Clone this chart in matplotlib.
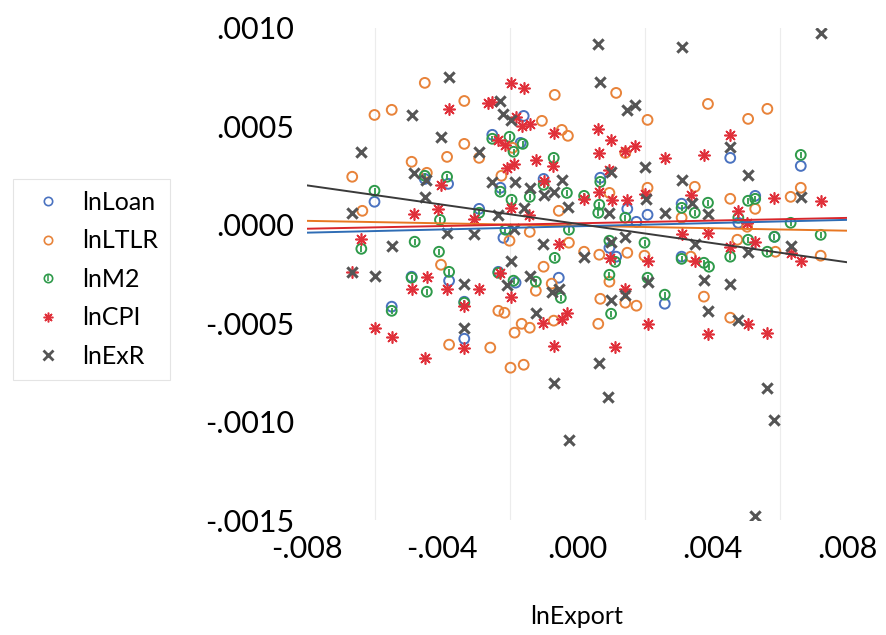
import numpy as np
import matplotlib
matplotlib.use("Agg")
import matplotlib.pyplot as plt
from matplotlib.lines import Line2D

plt.rcParams["font.family"] = ["Lato", "DejaVu Sans"]

# x values in units of 1e-3, y values in units of 1e-4
LOAN_X = [-3.82, -4.51, -6.00, -2.90, -2.51, -1.58, -1.67, -2.27, -0.99, 0.69, 1.49, 2.09, 1.76,
          4.54, 6.63, 3.10, 5.28, 4.78, -3.79, -5.49, -3.34, -4.90, -3.34, -2.18, -0.54, -1.82,
          -2.33, 0.96, 1.16, 2.60, 3.10, 5.85]
LOAN_Y = [2.08, 2.33, 1.17, 0.81, 4.57, 5.53, 4.16, 1.88, 2.33, 2.39, 0.81, 0.51, 0.15,
          3.40, 2.99, 1.07, 1.47, 0.10, -2.84, -4.16, -5.79, -2.64, -3.91, -0.66, -2.69, -2.94,
          -2.39, -1.17, -1.62, -4.01, -1.62, -0.61]

LTLR_X = [-4.51, -3.34, -6.00, -5.49, -3.34, -3.85, -2.90, -4.90, -6.66, -4.45, -6.36, -0.66, 1.16,
          2.09, -1.04, -0.45, -0.27, -1.91, 1.43, -2.24, 0.96, 2.09, -0.54, 3.88, 5.07, 5.64,
          3.49, 4.54, 5.28, 6.33, 6.63, 3.10, -4.03, -3.79, -2.57, -1.40, -2.00, -0.24, -0.99,
          -1.22, -0.75, -2.33, -2.15, -1.64, -1.40, -1.85, -0.69, -1.97, -1.58, 0.21, 0.66, 1.49,
          2.00, 0.96, 0.69, 1.43, 1.76, 0.63, 4.75, 3.37, 5.88, 7.22, 3.76, 4.54, 5.04]
LTLR_Y = [7.21, 6.29, 5.58, 5.84, 4.11, 3.45, 3.40, 3.20, 2.44, 2.64, 0.71, 6.60, 6.70,
          5.33, 5.28, 4.82, 4.52, 3.91, 3.65, 2.49, 1.62, 1.88, 0.71, 6.14, 5.38, 5.89,
          1.93, 1.32, 0.81, 1.42, 1.88, 0.36, -2.03, -6.09, -6.24, -0.36, -0.81, -0.91, -2.13,
          -3.35, -2.99, -4.37, -4.47, -5.03, -5.23, -5.48, -4.87, -7.26, -7.11, -1.37, -1.52, -1.42,
          -1.57, -2.89, -3.76, -3.96, -4.11, -5.03, -0.76, -1.62, -1.37, -1.57, -3.65, -4.72, -0.10]

M2_X = [-3.85, -4.51, -6.00, -2.90, -4.06, -2.00, -2.51, -1.61, -1.88, -0.69, -2.27, -0.99, -0.30,
        -1.40, 0.69, 0.21, 0.66, 0.63, -1.94, 1.43, 6.63, 3.88, 3.10, 3.49, 5.07, 5.28, 4.78,
        6.33, -6.39, -4.81, -4.09, -4.90, -4.45, -3.79, -5.49, -3.34, -0.24, -2.12, -0.66, -1.88,
        -1.22, -2.33, -0.48, 2.00, 0.96, 1.13, 2.09, 1.01, 2.60, 0.96, 3.10, 3.76, 3.91, 4.54,
        5.07, 5.64, 5.85, 7.22]
M2_Y = [2.44, 2.49, 1.73, 0.61, 0.25, 4.47, 4.37, 4.11, 3.71, 3.40, 1.68, 2.03, 1.62,
        1.42, 2.18, 1.47, 1.02, 0.61, 1.27, 0.36, 3.55, 1.12, 0.86, 0.61, 1.22, 1.32, 0.36,
        0.10, -1.22, -0.86, -1.37, -2.69, -3.40, -2.39, -4.37, -3.96, -0.25, -0.25, -1.68, -2.84,
        -2.89, -2.44, -3.71, -0.91, -2.54, -1.88, -2.69, -4.52, -3.55, -0.81, -1.73, -1.93, -2.13, -1.62,
        -0.76, -1.37, -0.61, -0.51]

CPI_X = [-3.79, -2.63, -4.03, -4.12, -4.84, -3.04, -1.97, -1.58, -2.51, -1.82, -1.64, -1.40, -0.69,
         0.63, 1.01, -2.33, -2.12, 1.43, 1.73, 2.60, 0.66, -1.22, -1.88, -2.06, -0.72, 0.96,
         -0.99, 0.66, 0.21, 1.04, 1.49, 2.00, -1.97, -1.43, 4.54, 3.76, 3.37, 5.85, 7.22, 4.78,
         5.04, -6.39, -6.66, -4.45, -4.90, -3.85, -2.90, -3.34, -6.00, -5.49, -3.34, -4.51, -0.54,
         -2.27, -1.97, -1.01, -0.45, -0.30, -0.69, 0.99, 1.43, 2.09, 2.09, 1.13, 3.10, 3.88,
         4.54, 5.28, 3.49, 6.33, 6.63, 5.07, 5.64, 3.88]
CPI_Y = [5.89, 6.19, 2.03, 0.81, 0.56, 0.30, 7.21, 6.95, 6.24, 5.48, 5.03, 5.13, 4.67,
         4.87, 4.31, 4.31, 4.06, 3.76, 4.01, 3.40, 3.65, 3.30, 3.10, 2.89, 2.99, 2.79,
         2.23, 1.68, 1.32, 1.27, 1.27, 1.57, 0.86, 0.51, 4.57, 3.55, 1.52, 1.37, 1.22, 0.71,
         0.10, -0.71, -2.39, -2.64, -3.25, -3.25, -3.25, -4.11, -5.23, -5.69, -6.24, -6.75, -0.96,
         -2.44, -3.65, -4.97, -4.77, -4.47, -6.14, -1.68, -3.25, -1.83, -5.03, -6.19, -0.46, -0.41,
         -1.12, -0.86, -1.83, -1.42, -1.83, -5.03, -5.48, -5.53]

EXR_X = [-3.79, -4.90, -6.39, -4.03, -2.90, -4.84, -4.51, -6.66, -4.48, 0.63, 0.69, -2.27, -2.18,
         -1.97, 1.49, 1.73, 2.00, 1.01, -2.51, -1.85, -1.40, -0.45, -0.69, -0.99, 2.03, -0.27,
         0.96, 2.60, -1.58, -2.33, 3.10, 7.22, 4.54, 5.07, 3.10, 6.63, 3.40, 3.88, -5.49, -6.00,
         -3.34, -3.34, -3.85, -3.04, -1.01, -1.97, -1.40, -2.06, -0.75, -0.54, -1.22, 0.21, 1.01,
         1.43, 1.01, 1.43, 2.09, 0.66, -0.69, 0.93, -1.88, 3.49, 5.07, 6.33, 3.76, 4.54, 3.88,
         4.78, 5.64, 5.85, 5.28, -0.24, -6.66]
EXR_Y = [7.51, 5.58, 3.71, 4.47, 3.71, 2.64, 1.42, 0.61, 2.28, 9.19, 7.26, 6.29, 5.63,
         5.33, 5.84, 6.09, 2.94, 2.69, 2.18, 2.18, 1.88, 2.28, 1.68, 1.52, 1.32, 0.91,
         0.61, 0.61, 0.86, 0.51, 9.04, 9.75, 3.96, 2.54, 2.28, 1.42, 1.12, 0.56, -1.07, -2.59,
         -2.99, -5.23, -0.41, -0.46, -0.96, -1.83, -2.59, -3.05, -3.40, -3.25, -4.47, -1.62, -0.86,
         -0.61, -3.81, -3.55, -2.89, -7.00, -8.02, -8.73, -0.20, -0.96, -1.37, -1.07, -2.79, -2.99, -4.37,
         -4.82, -8.27, -9.90, -14.77, -10.91, -2.39]

FIT_LOAN = (-0.0000075, 0.00406)
FIT_LTLR = (-0.000005, -0.003125)
FIT_CPI = (0.0000075, 0.00344)
FIT_EXR = (0.000005, -0.0244)

X_TICKS = [-0.008, -0.004, 0.0, 0.004, 0.008]
X_TICK_LABELS = ["-.008", "-.004", ".000", ".004", ".008"]
Y_TICKS = [-0.0015, -0.0010, -0.0005, 0.0, 0.0005, 0.0010]
Y_TICK_LABELS = ["-.0015", "-.0010", "-.0005", ".0000", ".0005", ".0010"]
X_GRID = [-0.006, -0.004, -0.002, 0.0, 0.002, 0.004, 0.006]
Y_GRID = [-0.0010, -0.0005, 0.0, 0.0005]

C_LOAN = "#4a72c0"
C_LTLR = "#e8833a"
C_M2 = "#2e9a4a"
C_CPI = "#e0303a"
C_EXR = "#555555"


def xs(v):
    return np.array(v) * 1e-3


def ys(v):
    return np.array(v) * 1e-4


fig = plt.figure(figsize=(8.86, 6.35), dpi=100)
ax = fig.add_axes([0.3465, 0.181, 0.6095, 0.775])

ms = 50
ax.scatter(xs(LOAN_X), ys(LOAN_Y), s=ms, facecolors="none", edgecolors=C_LOAN, linewidths=1.4, zorder=3)
ax.scatter(xs(LTLR_X), ys(LTLR_Y), s=ms, facecolors="none", edgecolors=C_LTLR, linewidths=1.4, zorder=3)
ax.scatter(xs(M2_X), ys(M2_Y), s=ms, facecolors="none", edgecolors=C_M2, linewidths=1.4, zorder=3)
ax.scatter(xs(M2_X), ys(M2_Y), s=ms * 0.45, marker="|", color=C_M2, linewidths=1.3, zorder=3)
ax.scatter(xs(CPI_X), ys(CPI_Y), s=ms * 1.3, marker=(8, 2, 0), color=C_CPI, linewidths=1.2, zorder=3)
ax.scatter(xs(EXR_X), ys(EXR_Y), s=ms * 1.1, marker="x", color=C_EXR, linewidths=2.2, zorder=3)

xl = np.array([-0.008, 0.008])
for (b0, b1), col in [(FIT_LTLR, "#e87722"), (FIT_CPI, "#d9262b"), (FIT_LOAN, "#2f6db5"), (FIT_EXR, "#3a3a3a")]:
    ax.plot(xl, b0 + b1 * xl, color=col, lw=1.4, zorder=4)

ax.set_xlim(-0.008, 0.008)
ax.set_ylim(-0.0015, 0.0010)
ax.set_xticks(X_TICKS)
ax.set_xticklabels(X_TICK_LABELS)
ax.set_yticks(Y_TICKS)
ax.set_yticklabels(Y_TICK_LABELS)
ax.set_xticks(X_GRID, minor=True)
ax.set_yticks(Y_GRID, minor=True)
ax.grid(False)
ax.grid(which="minor", color="#ececec", lw=0.8, zorder=0)
ax.tick_params(which="both", length=0, labelsize=22, colors="black")
ax.tick_params(axis="x", pad=11)
ax.tick_params(axis="y", pad=9)
for s in ax.spines.values():
    s.set_visible(False)
ax.set_xlabel("lnExport", fontsize=18, labelpad=30)

h_loan = Line2D([], [], ls="none", marker="o", mfc="none", mec=C_LOAN, mew=1.2, ms=6)
h_ltlr = Line2D([], [], ls="none", marker="o", mfc="none", mec=C_LTLR, mew=1.2, ms=6)
h_m2a = Line2D([], [], ls="none", marker="o", mfc="none", mec=C_M2, mew=1.2, ms=6)
h_m2b = Line2D([], [], ls="none", marker="|", color=C_M2, mew=1.1, ms=4)
h_cpi = Line2D([], [], ls="none", marker=(8, 2, 0), color=C_CPI, mew=1.1, ms=7)
h_exr = Line2D([], [], ls="none", marker="x", color=C_EXR, mew=2.0, ms=6.5)

leg = fig.legend([h_loan, h_ltlr, (h_m2a, h_m2b), h_cpi, h_exr],
                 ["lnLoan", "lnLTLR", "lnM2", "lnCPI", "lnExR"],
                 loc="upper left", bbox_to_anchor=(0.0147, 0.718), borderaxespad=0,
                 fontsize=18, frameon=True, fancybox=False, edgecolor="#e4e4e4", framealpha=1,
                 labelspacing=0.62, handlelength=1.86, handletextpad=0.43, borderpad=0.47)
leg.get_frame().set_linewidth(0.8)

fig.savefig("out.png", dpi=100)
